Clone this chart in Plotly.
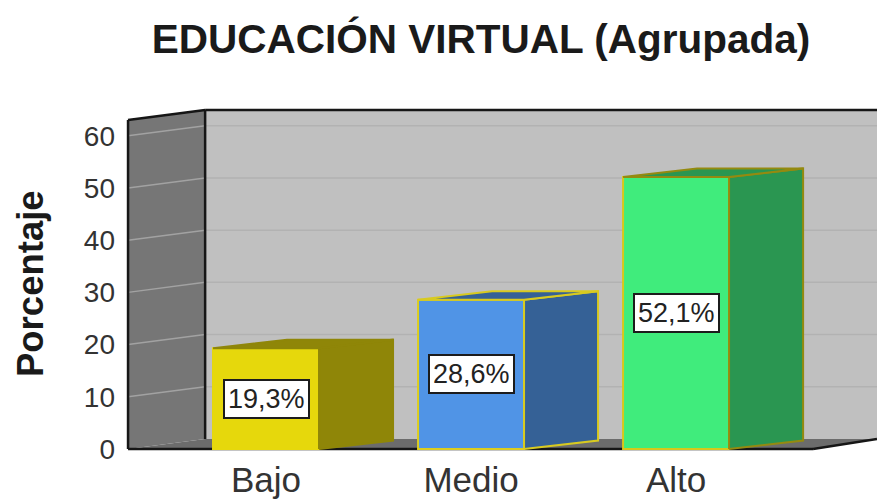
import plotly.graph_objects as go

# data
categories = ["Bajo", "Medio", "Alto"]
percentages = [19.3, 28.6, 52.1]
bar_labels = ["19,3%", "28,6%", "52,1%"]
y_ticks = [0, 10, 20, 30, 40, 50, 60]

front_colors = ["#e6d80c", "#5094e6", "#40ec7c"]
side_colors = ["#8f8608", "#356196", "#2a9651"]
edge_colors = ["#e6d80c", "#dccd1e", "#d8c81a"]
side_edge_colors = ["#8f8608", "#d8ca20", "#948a10"]

FONT = "Liberation Sans, Arial, sans-serif"
TEXT = "#222222"

# fake 3D depth, in axis units (1 x unit = 205 px, 1 y unit = 5.22 px)
bar_w = 0.517
bar_dx = 0.361
bar_dy = 1.63
wall_dx = 0.376
wall_dy = 1.92
wall_left = -0.673
wall_right = 2.98
wall_top = 63.0
floor_end = 2.668

fig = go.Figure()

# front faces
fig.add_trace(go.Bar(
    x=list(range(len(categories))), y=percentages, width=bar_w,
    marker=dict(color=front_colors, line=dict(color=edge_colors, width=2)),
    hoverinfo="skip", showlegend=False,
))

# side and top faces, worked out from the values
for i, v in enumerate(percentages):
    x0 = i - bar_w / 2
    x1 = i + bar_w / 2
    fig.add_trace(go.Scatter(
        x=[x1, x1 + bar_dx, x1 + bar_dx, x1, x1],
        y=[0, bar_dy, v + bar_dy, v, 0],
        mode="lines", fill="toself", fillcolor=side_colors[i],
        line=dict(color=side_edge_colors[i], width=2),
        hoverinfo="skip", showlegend=False,
    ))
    fig.add_trace(go.Scatter(
        x=[x0, x0 + bar_dx, x1 + bar_dx, x1, x0],
        y=[v, v + bar_dy, v + bar_dy, v, v],
        mode="lines", fill="toself", fillcolor=side_colors[i],
        line=dict(color=side_edge_colors[i], width=2),
        hoverinfo="skip", showlegend=False,
    ))

# walls and floor
back_x = wall_left + wall_dx
shapes = [
    dict(type="rect", x0=back_x, x1=wall_right, y0=wall_dy, y1=wall_top + wall_dy,
         fillcolor="#c0c0c0", line_width=0),
    dict(type="path",
         path=f"M {wall_left} 0 L {back_x} {wall_dy} L {back_x} {wall_top + wall_dy} L {wall_left} {wall_top} Z",
         fillcolor="#767676", line_width=0),
    dict(type="path",
         path=f"M {wall_left} 0 L {back_x} {wall_dy} L {wall_right} {wall_dy} L {floor_end} 0 Z",
         fillcolor="#6c6c6c", line_width=0),
]
for t in y_ticks[1:]:
    shapes.append(dict(type="line", x0=back_x, x1=wall_right, y0=t + wall_dy, y1=t + wall_dy,
                       line=dict(color="#b2b2b2", width=1.5)))
    shapes.append(dict(type="line", x0=wall_left, x1=back_x, y0=t, y1=t + wall_dy,
                       line=dict(color="#a2a2a2", width=1.5)))
# black frame
frame = [
    (wall_left, 0, wall_left, wall_top),
    (wall_left, wall_top, back_x, wall_top + wall_dy),
    (back_x, wall_top + wall_dy, wall_right, wall_top + wall_dy),
    (back_x, wall_dy, back_x, wall_top + wall_dy),
    (wall_left, 0, floor_end, 0),
    (floor_end, 0, wall_right, wall_dy),
]
for xa, ya, xb, yb in frame:
    shapes.append(dict(type="line", x0=xa, y0=ya, x1=xb, y1=yb,
                       line=dict(color="#161616", width=2.5)))
for s in shapes:
    s.update(xref="x", yref="y", layer="below")

# value labels
annotations = []
for i, v in enumerate(percentages):
    annotations.append(dict(
        x=i, y=v / 2, xref="x", yref="y", text=bar_labels[i], showarrow=False,
        font=dict(family=FONT, size=27, color=TEXT),
        bgcolor="white", bordercolor="#1c1c1c", borderwidth=2, borderpad=3,
    ))
# axis title sits off-centre in the picture, so it is placed by hand
annotations.append(dict(
    x=-94 / 753, y=0.4855, xref="paper", yref="paper", text="<b>Porcentaje</b>",
    textangle=-90, showarrow=False, xanchor="center", yanchor="middle",
    font=dict(family=FONT, size=36.5, color="#1a1a1a"),
))

fig.update_layout(
    width=877, height=500, autosize=False,
    margin=dict(l=124, r=0, t=106, b=48),
    paper_bgcolor="white", plot_bgcolor="white",
    font=dict(family=FONT, color=TEXT),
    title=dict(
        text="<b>EDUCACIÓN VIRTUAL (Agrupada)</b>",
        font=dict(family=FONT, size=40.5, color="#1a1a1a"),
        x=481 / 877, xanchor="center", xref="container", y=1 - 39 / 500, yanchor="middle",
    ),
    shapes=shapes,
    annotations=annotations,
    xaxis=dict(
        range=[-0.6927, 2.98], tickmode="array",
        tickvals=list(range(len(categories))), ticktext=categories,
        tickfont=dict(family=FONT, size=35, color="#333333"),
        showgrid=False, zeroline=False, showline=False, ticks="",
        ticklabelstandoff=4,
    ),
    yaxis=dict(
        range=[-0.575, 65.7], tickmode="array", tickvals=y_ticks,
        tickfont=dict(family=FONT, size=28, color="#333333"),
        showgrid=False, zeroline=False, showline=False, ticks="",
        ticklabelstandoff=8,
    ),
)

# drop the page's default body margin so the figure fills the window
fig.write_html("out.html", config=dict(displayModeBar=False),
               post_script="document.body.style.margin = '0';")
